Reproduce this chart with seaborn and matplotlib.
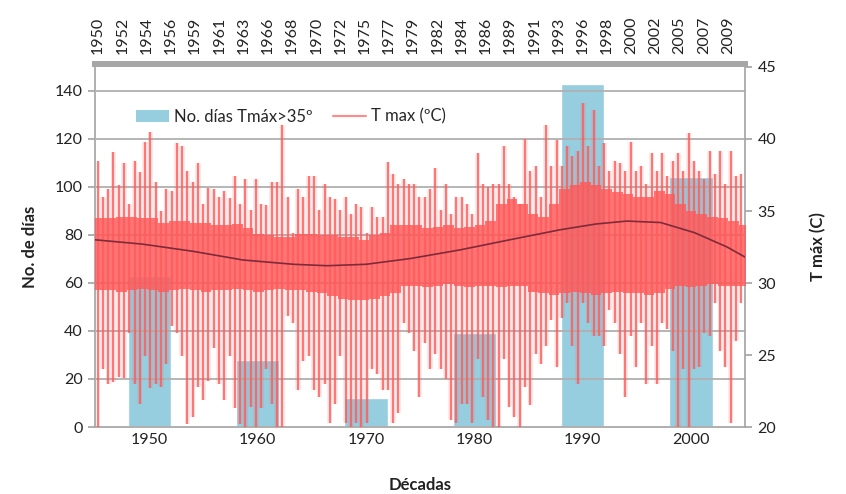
# Décadas: días con Tmáx > 35º y serie de T max
import numpy as np
import matplotlib
matplotlib.use('Agg')
import matplotlib.pyplot as plt
import seaborn as sns
from matplotlib.patches import Patch
from matplotlib.lines import Line2D

# ------------------ Data ------------------
decades = ['1950', '1960', '1970', '1980', '1990', '2000']
hot_days = [63, 28, 12, 39, 143, 104]

top_labels = ['1950', '1952', '1954', '1956', '1959', '1961', '1963', '1966', '1968',
              '1970', '1972', '1975', '1977', '1979', '1982', '1984', '1986', '1989',
              '1991', '1993', '1996', '1998', '2000', '2002', '2005', '2007', '2009']

# T max spikes per half year (1950.0 -> 2011.5): highest and lowest value
tmax_hi = [38.5, 36.0, 36.5, 39.1, 36.8, 38.3, 35.5, 38.5, 37.7, 39.8,
           40.5, 37.0, 35.0, 36.5, 36.4, 39.7, 39.5, 37.8, 37.0, 38.3,
           35.5, 36.6, 36.5, 36.0, 36.4, 35.9, 37.4, 35.5, 37.2, 35.1,
           37.2, 35.5, 35.4, 37.0, 37.0, 41.0, 36.0, 33.5, 36.5, 36.0,
           37.4, 37.4, 35.1, 36.9, 36.0, 35.8, 35.1, 36.0, 34.8, 35.5,
           35.3, 33.5, 35.3, 34.6, 34.6, 38.4, 37.6, 36.9, 37.2, 36.9,
           36.9, 36.0, 36.0, 36.5, 38.0, 35.1, 36.9, 34.8, 36.0, 36.0,
           35.5, 34.8, 39.0, 36.9, 36.7, 36.9, 36.9, 39.5, 36.9, 36.0,
           35.5, 40.0, 37.8, 38.1, 36.0, 41.0, 38.1, 39.9, 38.1, 39.5,
           38.8, 39.2, 42.5, 39.5, 42.0, 38.1, 39.7, 37.8, 38.5, 38.3,
           37.8, 39.8, 37.8, 38.1, 36.9, 39.0, 37.8, 39.0, 37.4, 38.5,
           39.0, 37.8, 40.4, 38.5, 37.8, 37.2, 39.2, 37.6, 39.2, 36.9,
           39.2, 37.4, 37.6]
tmax_lo = [20.0, 24.0, 23.0, 23.1, 23.5, 23.4, 26.5, 23.0, 21.6, 24.9,
           22.7, 23.0, 22.8, 24.4, 27.0, 26.5, 24.9, 20.2, 20.7, 22.8,
           21.9, 23.2, 25.5, 23.0, 21.9, 24.9, 21.3, 20.2, 20.0, 21.4,
           20.0, 21.3, 24.0, 21.6, 20.0, 20.0, 27.7, 27.2, 22.6, 24.6,
           24.9, 22.6, 22.1, 23.0, 20.3, 21.6, 24.9, 20.3, 20.0, 20.3,
           20.0, 20.3, 24.0, 23.7, 22.6, 22.6, 20.3, 21.0, 27.2, 26.5,
           25.3, 22.1, 25.8, 24.0, 25.1, 24.0, 23.3, 20.5, 20.3, 21.6,
           21.6, 20.3, 24.7, 22.1, 20.5, 20.0, 20.0, 24.7, 21.4, 20.7,
           20.0, 22.8, 21.5, 25.1, 24.4, 25.6, 27.4, 24.2, 27.6, 28.6,
           25.6, 23.0, 28.6, 27.2, 26.3, 26.3, 25.6, 28.1, 27.2, 25.1,
           22.1, 26.3, 24.2, 27.2, 23.0, 25.6, 23.0, 27.2, 26.8, 25.3,
           20.0, 24.0, 20.0, 24.0, 24.2, 26.5, 26.3, 28.6, 25.3, 24.2,
           20.3, 26.0, 28.6]

# dense part of the series, one value per year 1950..2011
core_years = list(range(1950, 2012))
core_hi = [34.5, 34.5, 34.6, 34.6, 34.5, 34.5, 34.2, 34.3, 34.3, 34.2,
           34.2, 34.0, 34.0, 34.1, 33.8, 33.4, 33.3, 33.2, 33.2, 33.4,
           33.4, 33.3, 33.3, 33.2, 33.2, 33.0, 33.3, 33.5, 34.0, 34.0,
           34.0, 33.8, 33.9, 34.0, 33.8, 33.9, 34.0, 34.3, 35.5, 35.8,
           35.5, 34.8, 34.6, 35.5, 36.5, 36.8, 37.0, 36.8, 36.5, 36.3,
           36.2, 36.0, 36.0, 36.4, 36.2, 35.5, 35.0, 34.8, 34.6, 34.5,
           34.3, 34.0]
core_lo = [29.5, 29.5, 29.4, 29.5, 29.6, 29.5, 29.4, 29.5, 29.6, 29.5,
           29.4, 29.5, 29.5, 29.6, 29.5, 29.4, 29.5, 29.6, 29.5, 29.5,
           29.4, 29.3, 29.1, 28.9, 28.8, 28.8, 28.9, 29.1, 29.3, 29.8,
           29.8, 29.7, 29.8, 29.9, 29.8, 29.7, 29.8, 29.8, 29.7, 29.8,
           29.8, 29.4, 29.3, 29.2, 29.3, 29.4, 29.3, 29.2, 29.3, 29.4,
           29.3, 29.3, 29.2, 29.3, 29.6, 29.8, 29.7, 29.8, 29.9, 29.8,
           29.8, 29.8]

trend_years = [1950, 1954.5, 1959.3, 1964, 1968.8, 1972, 1975.7, 1979.9, 1984.6,
               1989.3, 1994.1, 1997.5, 2000.4, 2003.6, 2006.8, 2009.9, 2011.6]
trend_vals = [33.0, 32.7, 32.2, 31.6, 31.3, 31.2, 31.3, 31.7, 32.3,
              33.0, 33.7, 34.1, 34.3, 34.2, 33.5, 32.5, 31.8]

bar_color = '#96cddf'
red = '#ff5a5a'
trend_color = '#7d2b3a'
gray = '#a6a6a6'
txt = '#222222'

# ------------------ Figure ------------------
sns.set_theme(style='white')
plt.rcParams['font.family'] = ['Lato', 'DejaVu Sans']

fig = plt.figure(figsize=(8.46, 4.94), dpi=100)
ax = fig.add_axes([95 / 846, 67 / 494, 650 / 846, 360 / 494])

# bars (left axis, decades)
sns.barplot(x=decades, y=hot_days, color=bar_color, saturation=1, width=0.4,
            ax=ax, zorder=1)
ax.set_xlim(-0.5, 5.5)
ax.set_ylim(0, 150)
ax.set_yticks(range(0, 141, 20))
ax.yaxis.grid(True, color='#b0b0b0', lw=1.3)
ax.set_axisbelow(False)

# temperature (right axis, top years)
ax2 = ax.twinx()
ax2.set_ylim(20, 45)
ax2.set_yticks(range(20, 46, 5))
ax3 = ax2.twiny()
ax3.set_xlim(1950, 2011.6)

half_x = 1950.25 + 0.5 * np.arange(len(tmax_hi))
cx = core_years + [core_years[-1] + 1]
ax3.fill_between(cx, core_lo + [core_lo[-1]], core_hi + [core_hi[-1]],
                 step='post', color=red, alpha=0.82, lw=0, zorder=2)
ax3.fill_between(half_x, tmax_lo, tmax_hi, step='mid', color=red, alpha=0.13,
                 lw=0, zorder=2)
ax3.vlines(half_x, tmax_lo, tmax_hi, color=red, alpha=0.8, lw=1.6, zorder=3)
sns.lineplot(x=trend_years, y=trend_vals, ax=ax3, color=trend_color, lw=1.2, zorder=4)
ax3.set_xlabel('')
ax3.set_ylabel('')

top_pos = np.linspace(1950.3, 2010.0, len(top_labels))
ax3.set_xticks(top_pos)
ax3.set_xticklabels(top_labels)
ax3.tick_params(axis='x', length=0, pad=7, labelsize=11.5, labelcolor=txt,
                labelrotation=90)

# spines
for a in (ax, ax2, ax3):
    for s in a.spines.values():
        s.set_visible(False)
ax.spines['left'].set_visible(True)
ax.spines['left'].set_color(gray)
ax.spines['bottom'].set_visible(True)
ax.spines['bottom'].set_color(gray)
ax2.spines['right'].set_visible(True)
ax2.spines['right'].set_color(gray)
ax3.spines['top'].set_visible(True)
ax3.spines['top'].set_color(gray)
ax3.spines['top'].set_linewidth(4.3)
ax3.spines['top'].set_position(('outward', 2.2))

ax.tick_params(axis='y', left=True, length=5, color=gray, pad=4,
               labelsize=11.5, labelcolor=txt)
ax.tick_params(axis='x', length=0, pad=4, labelsize=11.5, labelcolor=txt)
ax2.tick_params(axis='y', right=True, length=5, color=gray, pad=4,
                labelsize=11.5, labelcolor=txt)

ax.set_ylabel('No. de días', fontsize=12, fontweight='bold', color=txt)
ax.yaxis.set_label_coords(-0.088, 0.5)
ax.set_xlabel('Décadas', fontsize=12, fontweight='bold', color=txt)
ax.xaxis.set_label_coords(0.5, -0.14)
ax2.set_ylabel('T máx (C)', fontsize=12, fontweight='bold', color=txt)
ax2.yaxis.set_label_coords(1.1, 0.5)

handles = [Patch(facecolor=bar_color, edgecolor='none'),
           Line2D([0], [0], color=red, alpha=0.7, lw=1.5)]
ax3.legend(handles, ['No. días Tmáx>35º', 'T max (ºC)'], ncol=2, frameon=False,
           loc='center left', bbox_to_anchor=(0.04, 0.862), fontsize=12,
           handlelength=2.0, handleheight=0.8, columnspacing=1.2, handletextpad=0.3)

plt.savefig('out.png', dpi=100)
